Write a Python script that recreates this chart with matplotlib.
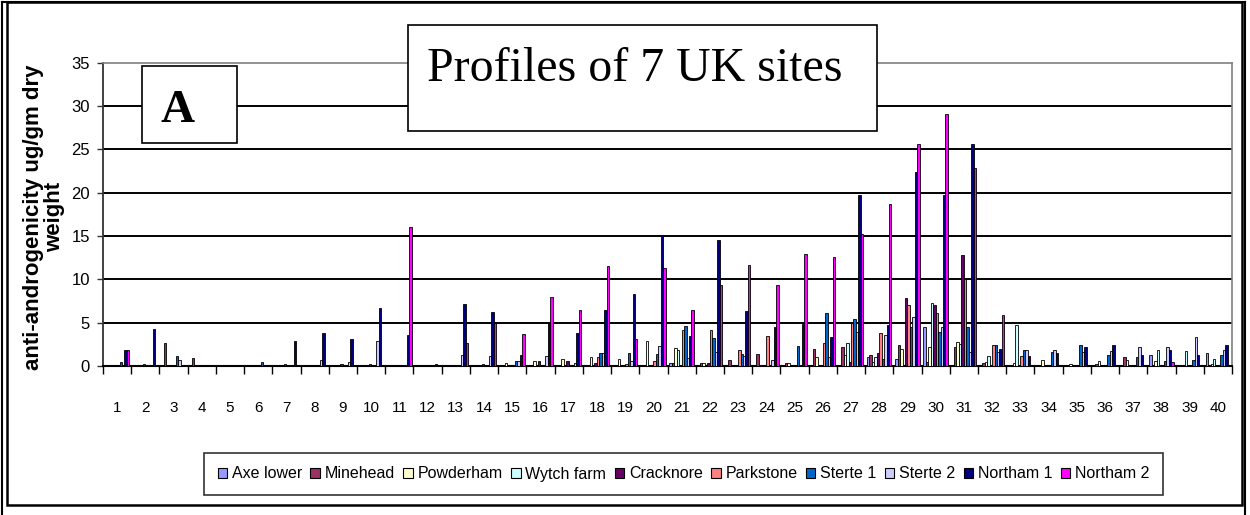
import matplotlib.pyplot as plt
import numpy as np
from matplotlib.patches import Patch, Rectangle
from matplotlib.lines import Line2D

# data (ug/gm dry weight), one value per fraction 1..40
fractions = [str(i) for i in range(1, 41)]

axe_lower = [0, 0, 0, 0, 0, 0, 0, 0, 0, 0,
             0, 0, 0, 0, 0, 0, 0, 0, 0, 0,
             0.4, 0, 0, 0, 0, 0, 0, 1.0, 0.8, 4.5,
             0, 0, 0, 0, 0, 0, 0, 1.25, 0, 1.45]
minehead = [0, 0, 2.7, 0.95, 0, 0, 0, 0, 0, 0,
            0, 0, 0, 0, 0, 0, 0, 0, 0, 0,
            0.4, 0.4, 0.65, 1.4, 0.4, 1.95, 2.15, 1.3, 2.4, 0.5,
            2.15, 0.3, 0, 0, 0, 0.2, 1.0, 0, 0, 0]
powderham = [0, 0, 0, 0, 0, 0, 0, 0, 0, 0,
             0, 0, 0, 0, 0.4, 0.6, 0.85, 1.05, 0.85, 2.9,
             2.1, 0.4, 0, 0.1, 0.4, 1.0, 1.3, 0.5, 1.95, 2.15,
             2.8, 0.5, 0.3, 0.75, 0.2, 0.55, 0.75, 0.55, 0, 0.2]
wytch_farm = [0, 0, 0, 0, 0, 0, 0, 0, 0, 0,
              0, 0, 0, 0, 0, 0, 0, 0, 0, 0,
              1.8, 0, 0, 0, 0, 0, 2.6, 1.0, 0, 7.25,
              2.5, 1.2, 4.7, 0, 0, 0, 0, 1.9, 1.7, 0.8]
cracknore = [0, 0.2, 0, 0, 0, 0, 0.25, 0, 0.25, 0.25,
             0, 0, 0, 0.2, 0, 0.6, 0.6, 0.4, 0, 0.1,
             0, 0.4, 0, 0, 0, 0, 0.5, 1.5, 7.8, 7.0,
             12.8, 0, 0, 0, 0, 0, 0, 0, 0, 0]
parkstone = [0, 0, 0, 0, 0, 0, 0, 0, 0, 0,
             0, 0, 0, 0, 0, 0, 0, 1.05, 0.25, 0.6,
             4.2, 4.2, 1.8, 3.5, 0, 2.65, 4.95, 3.8, 7.0, 6.1,
             10.0, 2.4, 1.2, 0, 0, 0, 0, 0, 0, 0]
sterte_1 = [0.5, 0, 1.2, 0, 0, 0.5, 0, 0, 0, 0,
            0, 0, 0, 0, 0.6, 0, 0, 1.5, 1.5, 1.4,
            4.6, 3.25, 1.35, 0, 2.3, 6.1, 5.4, 0.8, 4.45, 3.95,
            4.5, 2.4, 1.85, 1.65, 2.4, 1.25, 1.0, 0.55, 0.75, 1.25]
sterte_2 = [0, 0, 0.7, 0, 0, 0, 0, 0.7, 0.5, 2.9,
            0.15, 0, 1.3, 1.1, 0.6, 1.1, 0.4, 1.5, 0.6, 2.3,
            0.9, 1.6, 1.1, 0.7, 0.15, 1.0, 3.95, 3.6, 5.7, 4.45,
            1.65, 1.65, 1.85, 1.85, 1.65, 1.7, 2.15, 2.15, 3.4, 1.9]
northam_1 = [1.9, 4.3, 0, 0, 0, 0, 2.9, 3.85, 3.15, 6.7,
             3.6, 0.25, 7.1, 6.2, 1.3, 5.0, 3.8, 6.45, 8.3, 15.1,
             3.5, 14.5, 6.3, 4.5, 4.9, 3.35, 19.7, 4.7, 22.4, 19.7,
             25.6, 1.95, 1.2, 1.45, 2.15, 2.4, 1.25, 1.9, 1.25, 2.4]
northam_2 = [1.9, 0, 0, 0, 0, 0, 0, 0, 0, 0,
             16.0, 0, 2.7, 5.0, 3.7, 8.0, 6.5, 11.5, 3.1, 11.3,
             6.5, 9.3, 11.7, 9.3, 12.9, 12.6, 15.2, 18.7, 25.6, 29.1,
             22.9, 5.9, 0, 0, 0, 0, 0, 0.5, 0, 0]

sites = ["Axe lower", "Minehead", "Powderham", "Wytch farm", "Cracknore",
         "Parkstone", "Sterte 1", "Sterte 2", "Northam 1", "Northam 2"]
series = [axe_lower, minehead, powderham, wytch_farm, cracknore,
          parkstone, sterte_1, sterte_2, northam_1, northam_2]
colors = ["#9999FF", "#993366", "#FFFFCC", "#CCFFFF", "#660066",
          "#FF8080", "#0066CC", "#CCCCFF", "#000080", "#FF00FF"]

W, H = 1250, 515


def fx(px):
    return px / W


def fy(py):
    return 1 - py / H


fig = plt.figure(figsize=(W / 100, H / 100), dpi=100)
ax = fig.add_axes([fx(103), fy(366), fx(1232 - 103), (366 - 62.7) / H])

x = np.arange(1, len(fractions) + 1)
w = 1 / 11.5  # excel gap width 150%
for i, (vals, c) in enumerate(zip(series, colors)):
    ax.bar(x + (i - 4.5) * w, vals, width=w, color=c,
           edgecolor="black", linewidth=0.6, zorder=3)

ax.set_xlim(0.5, 40.5)
ax.set_ylim(0, 35)

# y axis
ax.set_yticks(range(0, 36, 5))
ax.tick_params(axis="y", direction="out", length=4.5, width=1, pad=5,
               labelsize=12, color="#333333")
ax.yaxis.grid(True, color="black", linewidth=1.4, zorder=0)
ax.get_ygridlines()[-1].set_visible(False)
ax.set_axisbelow(True)

# x axis: labels in the middle, tick marks between groups
ax.set_xticks(x, fractions)
ax.set_xticks(np.arange(0.5, 41, 1), minor=True)
ax.tick_params(axis="x", which="major", length=0, pad=25, labelsize=11)
ax.tick_params(axis="x", which="minor", direction="out", length=6, width=1)

for lab in ax.get_xticklabels() + ax.get_yticklabels():
    lab.set_fontfamily("Liberation Sans")

ax.spines["left"].set_color("#333333")
ax.spines["left"].set_linewidth(1.3)
ax.spines["bottom"].set_linewidth(1.5)
for s in ("top", "right"):
    ax.spines[s].set_color("#808080")
    ax.spines[s].set_linewidth(1.2)

fig.text(fx(44), fy(217), "anti-androgenicity ug/gm dry\nweight",
         rotation=90, ha="center", va="center", multialignment="center",
         fontsize=16, fontweight="bold", family="Liberation Sans",
         linespacing=0.95)

# title box and panel letter
fig.add_artist(Rectangle((fx(408), fy(131)), fx(877 - 408), (131 - 25) / H,
                         transform=fig.transFigure, facecolor="white",
                         edgecolor="black", linewidth=1.2, zorder=5))
fig.text(fx(635), fy(81), "Profiles of 7 UK sites", ha="center",
         va="baseline", fontsize=34.5, family="Liberation Serif", zorder=6)

fig.add_artist(Rectangle((fx(142), fy(143)), fx(237 - 142), (143 - 66) / H,
                         transform=fig.transFigure, facecolor="white",
                         edgecolor="black", linewidth=1.2, zorder=5))
fig.text(fx(178), fy(121.7), "A", ha="center", va="baseline", fontsize=34,
         fontweight="bold", family="Liberation Serif", zorder=6)

# legend
handles = [Patch(facecolor=c, edgecolor="black", linewidth=0.8) for c in colors]
leg = fig.legend(handles, sites, loc="center", ncol=10, mode="expand",
                 bbox_to_anchor=(fx(204), fy(497), fx(1163 - 204), (497 - 451) / H),
                 frameon=True, fancybox=False, edgecolor="black",
                 prop={"family": "Liberation Sans", "size": 11.5},
                 handlelength=0.6, handleheight=0.6, handletextpad=0.3,
                 borderpad=0.85, borderaxespad=0)
leg.get_frame().set_linewidth(1.2)

# chart frame
fig.add_artist(Rectangle((fx(7.3), fy(504.5)), fx(1242 - 7.3), (504.5 - 2) / H,
                         transform=fig.transFigure, fill=False,
                         edgecolor="black", linewidth=1.8, zorder=7))
for xs, ys in [([1.7, 1245], [1.5, 1.5]), ([1.7, 1.7], [1.5, 515]),
               ([1245, 1245], [1.5, 515])]:
    fig.add_artist(Line2D([fx(v) for v in xs], [fy(v) for v in ys],
                          transform=fig.transFigure, color="black",
                          linewidth=1.5, zorder=7))

fig.savefig("out.png", dpi=100)
